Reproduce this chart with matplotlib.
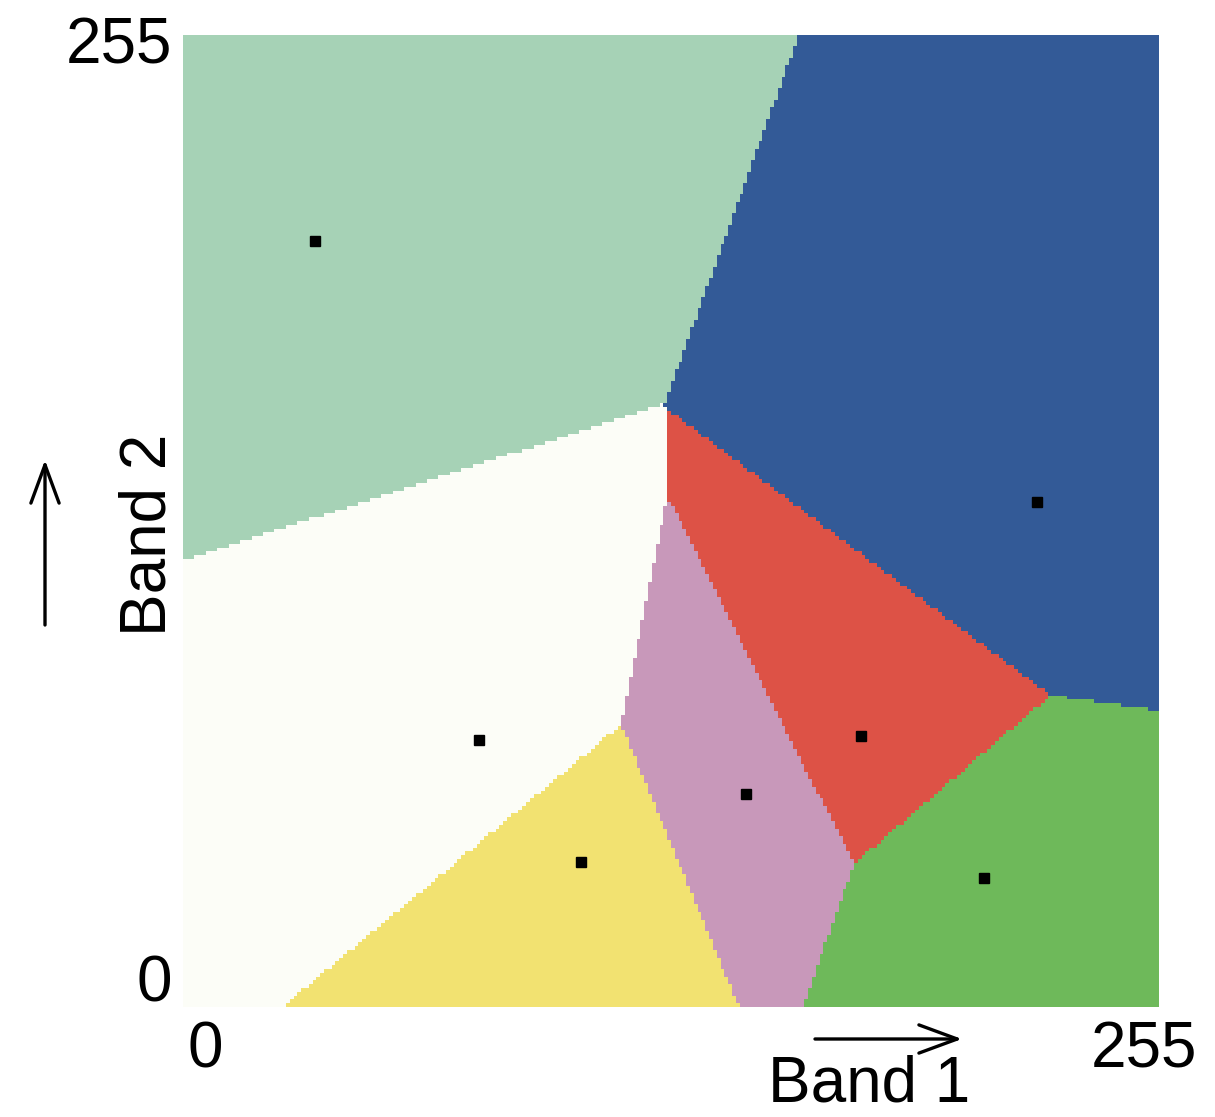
import numpy as np
import matplotlib
matplotlib.use("Agg")
import matplotlib.pyplot as plt
from matplotlib.colors import ListedColormap
from matplotlib.patches import FancyArrowPatch

# Class centroids in the Band 1 / Band 2 feature space (0-255)
class_names = ["light green", "blue", "white", "red", "pink", "yellow", "green"]
band1 = [34.5, 223.2, 77.3, 177.2, 147.2, 104.1, 209.3]
band2 = [201.0, 132.5, 70.0, 71.1, 55.9, 38.0, 33.8]
class_colors = ["#A6D2B6", "#335A97", "#FCFDF7", "#DD5246",
                "#C898BA", "#F2E271", "#6EB95A"]

W, H = 1215, 1117
fig = plt.figure(figsize=(W / 100, H / 100), dpi=100)
plt.rcParams["font.family"] = ["Liberation Sans", "DejaVu Sans"]

# Minimum-distance classification of every pixel value pair
grid = np.arange(256)
gx, gy = np.meshgrid(grid, grid)
cx = np.array(band1)[:, None, None]
cy = np.array(band2)[:, None, None]
dist = (gx[None] - cx) ** 2 + (gy[None] - cy) ** 2
labels = np.argmin(dist, axis=0)

left, right, top, bottom = 183, 1159, 35, 1007
ax = fig.add_axes([left / W, 1 - bottom / H, (right - left) / W, (bottom - top) / H])
ax.imshow(labels, origin="lower", extent=[0, 255, 0, 255],
          cmap=ListedColormap(class_colors), vmin=-0.5, vmax=len(class_colors) - 0.5,
          interpolation="nearest", aspect="auto")
ax.plot(band1, band2, linestyle="none", marker="s", markersize=6.5, color="black")
ax.set_xlim(0, 255)
ax.set_ylim(0, 255)
ax.axis("off")


def fx(px):
    return px / W


def fy(py):
    return 1 - py / H


fs = 46
fig.text(fx(172), fy(46), "255", ha="right", va="center", fontsize=fs)
fig.text(fx(172), fy(985), "0", ha="right", va="center", fontsize=fs)
fig.text(fx(205), fy(1050), "0", ha="center", va="center", fontsize=fs)
fig.text(fx(1197), fy(1050), "255", ha="right", va="center", fontsize=fs)
fig.text(fx(869), fy(1085), "Band 1", ha="center", va="center", fontsize=fs)
fig.text(fx(148), fy(535), "Band 2", ha="center", va="center", fontsize=fs, rotation=90)

arrow_kw = dict(arrowstyle="->,head_length=0.95,head_width=0.35", lw=2.4,
                color="black", mutation_scale=29, shrinkA=0, shrinkB=0,
                transform=fig.transFigure)
fig.add_artist(FancyArrowPatch((fx(815), fy(1039)), (fx(962), fy(1039)), **arrow_kw))
fig.add_artist(FancyArrowPatch((fx(45), fy(625)), (fx(45), fy(460)), **arrow_kw))

fig.savefig("out.png", dpi=100)
